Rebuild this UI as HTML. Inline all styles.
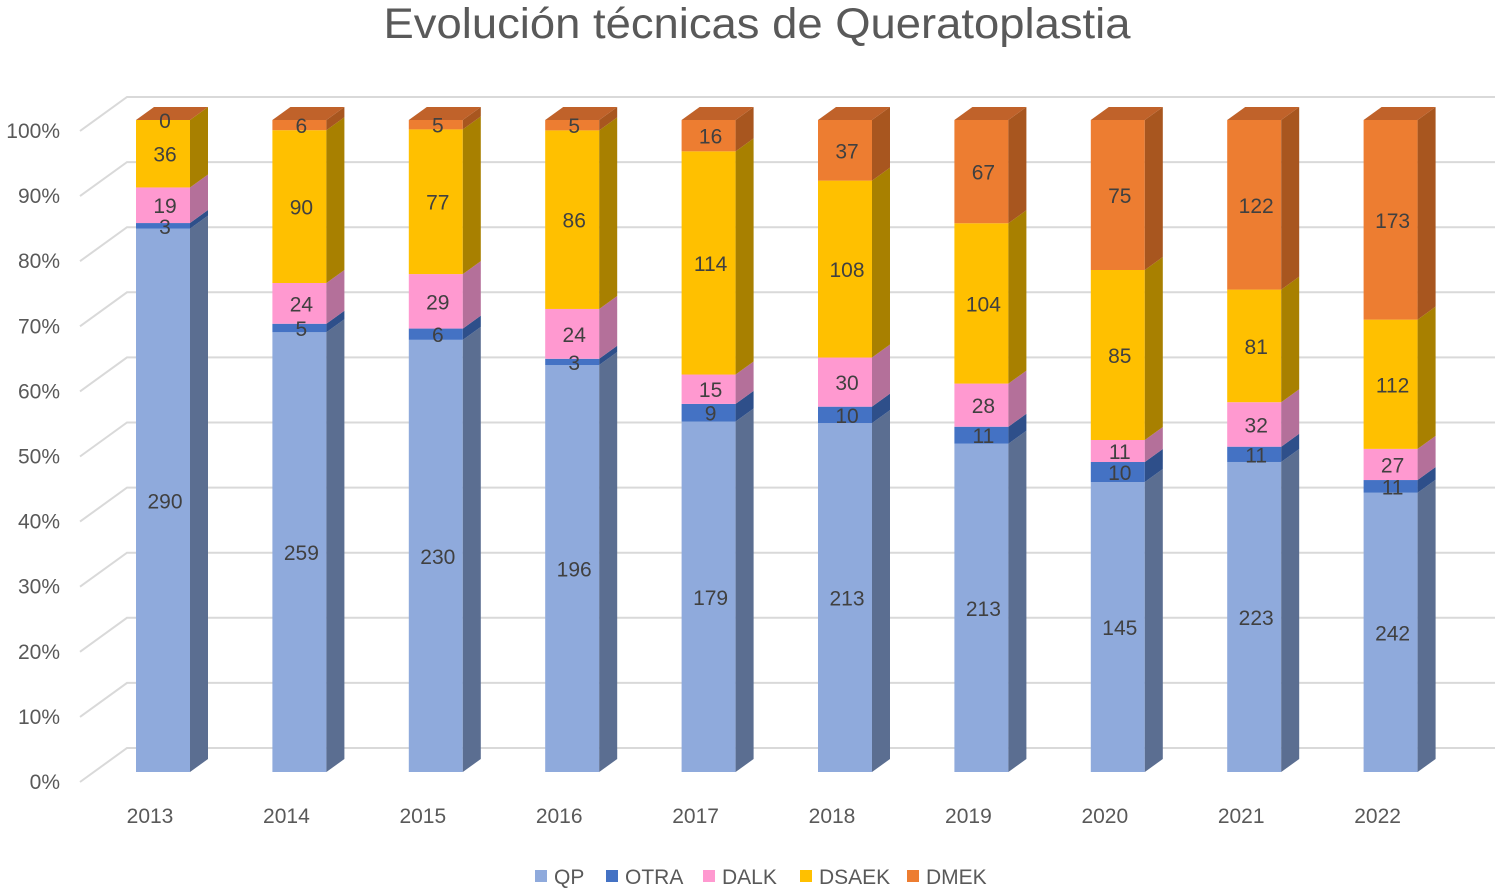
<!DOCTYPE html>
<html><head><meta charset="utf-8"><style>
html,body{margin:0;padding:0;background:#fff;}
svg text{font-family:"Liberation Sans",sans-serif;}
</style></head><body>
<svg id="chart" width="1500" height="889" viewBox="0 0 1500 889" xmlns="http://www.w3.org/2000/svg">
<text x="757" y="38" text-anchor="middle" font-size="43" fill="#595959" textLength="747" lengthAdjust="spacingAndGlyphs">Evolución técnicas de Queratoplastia</text>
<g id="grid"></g><g id="bars"></g><g id="labels"></g><g id="legend"></g>
</svg>
<script>
const years = ['2013','2014','2015','2016','2017','2018','2019','2020','2021','2022'];
const seriesNames = ['QP','OTRA','DALK','DSAEK','DMEK'];
const qp    = [290,259,230,196,179,213,213,145,223,242];
const otra  = [3,5,6,3,9,10,11,10,11,11];
const dalk  = [19,24,29,24,15,30,28,11,32,27];
const dsaek = [36,90,77,86,114,108,104,85,81,112];
const dmek  = [0,6,5,5,16,37,67,75,122,173];
const yTicks = ['0%','10%','20%','30%','40%','50%','60%','70%','80%','90%','100%'];

const series=[qp,otra,dalk,dsaek,dmek];
const front=['#8faadc','#4472c4','#ff99d0','#ffc000','#ed7d31'];
const side=['#5b6e91','#2e4f8a','#b4709a','#a88000','#a8561f'];
const topc=['#7891c0','#3a62ad','#e087bb','#d9a300','#c0622a'];
const NS='http://www.w3.org/2000/svg';
const svg=document.getElementById('chart');
function mk(tag,attrs,parent,txt){const e=document.createElementNS(NS,tag);for(const k in attrs)e.setAttribute(k,attrs[k]);if(txt!==undefined)e.textContent=txt;parent.appendChild(e);return e;}
const gridY=p=>748-p*6.51;
const barY=p=>772-p*6.52;
const barX=i=>136+i*136.4;
const BW=54, DX=18, DY=13;
const grid=document.getElementById('grid');
yTicks.forEach((t,i)=>{
  const gy=gridY(i*10);
  const l=mk('polyline',{points:`80,${gy+34} 127,${gy} 1495,${gy}`,fill:'none',stroke:'#d9d9d9','stroke-width':2},grid);
  
  
  const tx=mk('text',{x:60,y:gy+34+7,'text-anchor':'end','font-size':21,fill:'#595959'},grid,t);
  
  
});
const bars=document.getElementById('bars'),labels=document.getElementById('labels');
years.forEach((yr,i)=>{
  const tot=series.reduce((s,a)=>s+a[i],0);
  let cum=0;const x0=barX(i),x1=x0+BW;
  const g=mk('g',{},bars);
  
  
  series.forEach((a,s)=>{
    const v=a[i];const yb=barY(cum/tot*100);cum+=v;const yt=barY(cum/tot*100);
    const r=mk('rect',{x:x0,y:yt,width:BW,height:Math.max(0,yb-yt),fill:front[s]},g);
    
    
    const sd=mk('polygon',{points:`${x1},${yt} ${x1+DX},${yt-DY} ${x1+DX},${yb-DY} ${x1},${yb}`,fill:side[s]},g);
    
    
    const lbl=mk('text',{x:x0+BW/2+2,y:(yt+yb)/2+8,'text-anchor':'middle','font-size':21,fill:'#404040'},labels,String(v));
    
    
  });
  const tp=barY(100);
  let ts=4;while(ts>0&&series[ts][i]===0)ts--;
  if(series[4][i]===0)ts=4;
  const top=mk('polygon',{points:`${x0},${tp} ${x0+DX},${tp-DY} ${x1+DX},${tp-DY} ${x1},${tp}`,fill:topc[ts]},g);
  
  
  const yl=mk('text',{x:x0+14,y:823,'text-anchor':'middle','font-size':21,fill:'#595959'},labels,yr);
  
  
});
const leg=document.getElementById('legend');
const lx=[535,606,703,800,907];
seriesNames.forEach((n,s)=>{
  const g=mk('g',{},leg);
  
  
  mk('rect',{x:lx[s],y:870,width:12,height:12,fill:front[s]},g);
  mk('text',{x:lx[s]+19,y:884,'font-size':21,fill:'#595959'},g,n);
});
</script>
</body></html>
